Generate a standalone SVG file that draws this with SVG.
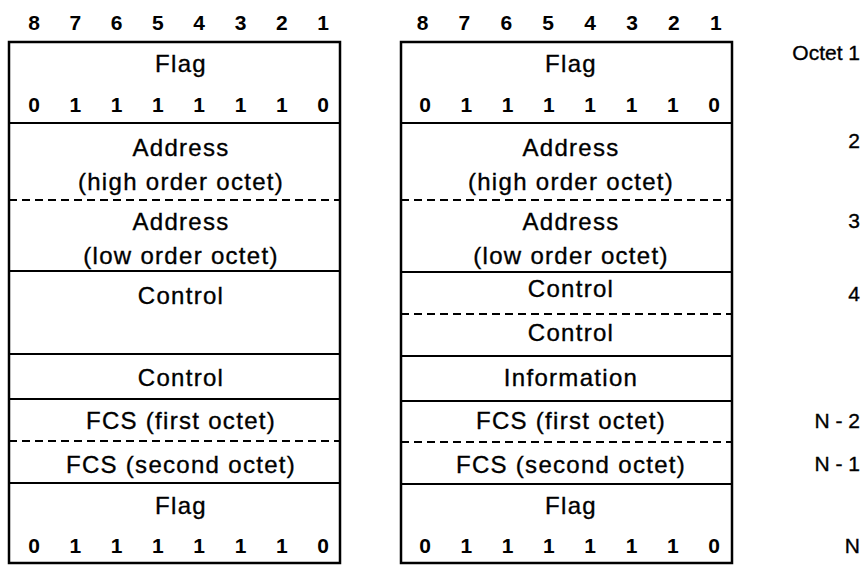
<svg xmlns="http://www.w3.org/2000/svg" width="863" height="565" viewBox="0 0 863 565">
<style>
text{font-family:"Liberation Sans",Arial,Helvetica,sans-serif;fill:#000}
.t{font-size:24px;letter-spacing:1.3px;text-anchor:middle;stroke:#000;stroke-width:0.35}
.d{font-size:21px;font-weight:bold;text-anchor:middle}
.l{font-size:21px;text-anchor:end;stroke:#000;stroke-width:0.35}
.box{fill:none;stroke:#000;stroke-width:2.5}
.s{stroke:#000;stroke-width:2}
.ds{stroke:#000;stroke-width:2;stroke-dasharray:8 5}
</style>
<rect width="863" height="565" fill="#fff"/>
<g id="frame-left">
<g id="left-header">
<text class="d" x="34" y="30">8</text><text class="d" x="75.3" y="30">7</text><text class="d" x="116.6" y="30">6</text><text class="d" x="157.9" y="30">5</text><text class="d" x="199.2" y="30">4</text><text class="d" x="240.5" y="30">3</text><text class="d" x="281.8" y="30">2</text><text class="d" x="323.1" y="30">1</text>
</g>
<rect class="box" x="9" y="42" width="331" height="521"/>
<line class="s" x1="9" y1="123" x2="340" y2="123"/>
<line class="ds" x1="9" y1="200" x2="340" y2="200"/>
<line class="s" x1="9" y1="271" x2="340" y2="271"/>
<line class="s" x1="9" y1="354" x2="340" y2="354"/>
<line class="s" x1="9" y1="399" x2="340" y2="399"/>
<line class="ds" x1="9" y1="441" x2="340" y2="441"/>
<line class="s" x1="9" y1="483" x2="340" y2="483"/>
<g id="left-flag-open"><text class="t" x="181" y="72">Flag</text>
<text class="d" x="34" y="112">0</text><text class="d" x="75.3" y="112">1</text><text class="d" x="116.6" y="112">1</text><text class="d" x="157.9" y="112">1</text><text class="d" x="199.2" y="112">1</text><text class="d" x="240.5" y="112">1</text><text class="d" x="281.8" y="112">1</text><text class="d" x="323.1" y="112">0</text></g>
<g id="left-address-high"><text class="t" x="181" y="156">Address</text><text class="t" x="181" y="190">(high order octet)</text></g>
<g id="left-address-low"><text class="t" x="181" y="230">Address</text><text class="t" x="181" y="264">(low order octet)</text></g>
<g id="left-control"><text class="t" x="181" y="304">Control</text></g>
<g id="left-control-2"><text class="t" x="181" y="386">Control</text></g>
<g id="left-fcs1"><text class="t" x="181" y="429">FCS (first octet)</text></g>
<g id="left-fcs2"><text class="t" x="181" y="473">FCS (second octet)</text></g>
<g id="left-flag-close"><text class="t" x="181" y="514">Flag</text>
<text class="d" x="34" y="553">0</text><text class="d" x="75.3" y="553">1</text><text class="d" x="116.6" y="553">1</text><text class="d" x="157.9" y="553">1</text><text class="d" x="199.2" y="553">1</text><text class="d" x="240.5" y="553">1</text><text class="d" x="281.8" y="553">1</text><text class="d" x="323.1" y="553">0</text></g>
</g>
<g id="frame-right">
<g id="right-header">
<text class="d" x="422.5" y="30">8</text><text class="d" x="464.4" y="30">7</text><text class="d" x="506.3" y="30">6</text><text class="d" x="548.2" y="30">5</text><text class="d" x="590.1" y="30">4</text><text class="d" x="632" y="30">3</text><text class="d" x="673.9" y="30">2</text><text class="d" x="715.8" y="30">1</text>
</g>
<rect class="box" x="401" y="42" width="331" height="521"/>
<line class="s" x1="401" y1="123" x2="732" y2="123"/>
<line class="ds" x1="401" y1="200" x2="732" y2="200"/>
<line class="s" x1="401" y1="272" x2="732" y2="272"/>
<line class="ds" x1="401" y1="314" x2="732" y2="314"/>
<line class="s" x1="401" y1="356" x2="732" y2="356"/>
<line class="s" x1="401" y1="401" x2="732" y2="401"/>
<line class="ds" x1="401" y1="442" x2="732" y2="442"/>
<line class="s" x1="401" y1="484" x2="732" y2="484"/>
<g id="right-flag-open"><text class="t" x="571" y="72">Flag</text>
<text class="d" x="425" y="112">0</text><text class="d" x="466.3" y="112">1</text><text class="d" x="507.6" y="112">1</text><text class="d" x="548.9" y="112">1</text><text class="d" x="590.2" y="112">1</text><text class="d" x="631.5" y="112">1</text><text class="d" x="672.8" y="112">1</text><text class="d" x="714.1" y="112">0</text></g>
<g id="right-address-high"><text class="t" x="571" y="156">Address</text><text class="t" x="571" y="190">(high order octet)</text></g>
<g id="right-address-low"><text class="t" x="571" y="230">Address</text><text class="t" x="571" y="264">(low order octet)</text></g>
<g id="right-control-1"><text class="t" x="571" y="297">Control</text></g>
<g id="right-control-2"><text class="t" x="571" y="341">Control</text></g>
<g id="right-information"><text class="t" x="571" y="386">Information</text></g>
<g id="right-fcs1"><text class="t" x="571" y="429">FCS (first octet)</text></g>
<g id="right-fcs2"><text class="t" x="571" y="473">FCS (second octet)</text></g>
<g id="right-flag-close"><text class="t" x="571" y="514">Flag</text>
<text class="d" x="425" y="553">0</text><text class="d" x="466.3" y="553">1</text><text class="d" x="507.6" y="553">1</text><text class="d" x="548.9" y="553">1</text><text class="d" x="590.2" y="553">1</text><text class="d" x="631.5" y="553">1</text><text class="d" x="672.8" y="553">1</text><text class="d" x="714.1" y="553">0</text></g>
</g>
<g id="octet-labels">
<text class="l" x="860" y="60">Octet 1</text>
<text class="l" x="860" y="148">2</text>
<text class="l" x="860" y="228">3</text>
<text class="l" x="860" y="301">4</text>
<text class="l" x="860" y="428">N - 2</text>
<text class="l" x="860" y="471">N - 1</text>
<text class="l" x="860" y="553">N</text>
</g>
</svg>
